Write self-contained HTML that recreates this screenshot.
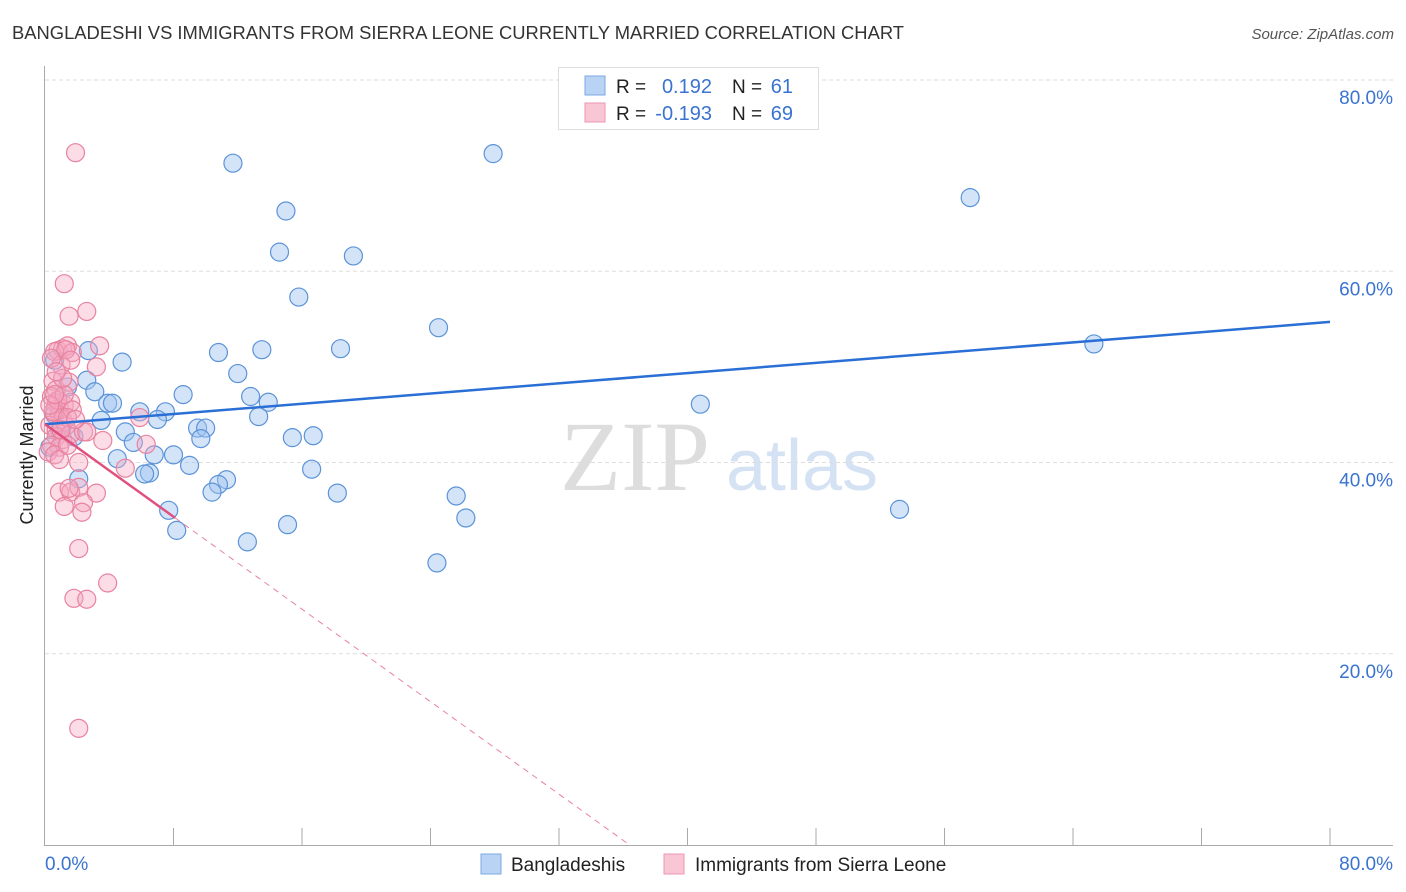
<!DOCTYPE html>
<html><head><meta charset="utf-8"><style>
body{margin:0;background:#fff;font-family:"Liberation Sans",sans-serif;}
#wrap{position:relative;width:1406px;height:892px;overflow:hidden;}
</style></head><body>
<div id="wrap">
<svg id="svg" width="1406" height="892" style="position:absolute;left:0;top:0">
<text x="12" y="39" font-size="18" fill="#333" textLength="892" lengthAdjust="spacingAndGlyphs">BANGLADESHI VS IMMIGRANTS FROM SIERRA LEONE CURRENTLY MARRIED CORRELATION CHART</text>
<text x="1394" y="39" font-size="15" fill="#555" font-style="italic" text-anchor="end">Source: ZipAtlas.com</text>
<text transform="translate(33,455) rotate(-90)" font-size="18" fill="#222" text-anchor="middle">Currently Married</text>
<g><text x="635" y="490" font-family="Liberation Serif" font-size="100" fill="#ddd" text-anchor="middle">ZIP</text><text x="802" y="490" font-size="72" fill="#d4e2f4" text-anchor="middle">atlas</text></g>
<g id="grid"></g><g id="axes"></g><g id="pts"></g><g id="lines"></g>
<g>
<rect x="558.5" y="67.5" width="260" height="62" fill="#fff" stroke="#ddd"/>
<rect x="585" y="76" width="20" height="19" fill="#b9d3f4" stroke="#7aa8e4"/>
<rect x="585" y="103" width="20" height="19" fill="#f9c6d5" stroke="#ee97b2"/>
<text x="616" y="93" font-size="19" fill="#222">R =</text><text x="712" y="93" font-size="20" fill="#3a73d0" text-anchor="end">0.192</text>
<text x="732" y="93" font-size="19" fill="#222">N =</text><text x="793" y="93" font-size="20" fill="#3a73d0" text-anchor="end">61</text>
<text x="616" y="120" font-size="19" fill="#222">R =</text><text x="712" y="120" font-size="20" fill="#3a73d0" text-anchor="end">-0.193</text>
<text x="732" y="120" font-size="19" fill="#222">N =</text><text x="793" y="120" font-size="20" fill="#3a73d0" text-anchor="end">69</text>
</g>
<g>
<rect x="481" y="854" width="20" height="20" fill="#b9d3f4" stroke="#7aa8e4"/>
<text x="511" y="871" font-size="19" fill="#222">Bangladeshis</text>
<rect x="664" y="854" width="20" height="20" fill="#f9c6d5" stroke="#ee97b2"/>
<text x="695" y="871" font-size="19" fill="#222">Immigrants from Sierra Leone</text>
</g>
</svg>
</div>
<script>
const blueX=[11.7,27.9,15.0,14.6,19.2,57.6,15.8,24.5,18.4,65.3,2.7,10.8,13.5,4.8,12.0,2.6,3.1,8.6,12.8,3.9,4.2,13.9,7.5,5.9,7.0,13.3,3.5,40.8,9.5,10.0,5.0,15.4,16.7,1.8,5.5,9.7,6.8,8.0,4.5,9.0,16.6,6.5,6.2,11.3,10.8,10.4,18.2,25.6,7.7,53.2,26.2,8.2,15.1,12.6,24.4,2.1,1.4,0.6,0.6,0.9,0.3];
const blueY=[71.3,72.3,66.3,62.0,61.6,67.7,57.3,54.1,51.9,52.4,51.7,51.5,51.8,50.5,49.3,48.6,47.4,47.1,46.9,46.2,46.2,46.3,45.3,45.3,44.5,44.8,44.4,46.1,43.6,43.6,43.2,42.6,42.8,42.7,42.1,42.5,40.8,40.8,40.4,39.7,39.3,38.9,38.8,38.2,37.7,36.9,36.8,36.5,35.0,35.1,34.2,32.9,33.5,31.7,29.5,38.3,47.9,50.7,45.0,43.4,41.6];
const pinkX=[1.9,1.2,1.5,2.6,0.8,1.1,1.4,1.7,3.4,0.6,1.0,3.2,0.5,0.7,1.5,0.4,0.7,0.9,1.2,1.6,0.6,0.9,1.1,0.3,0.7,1.3,1.7,0.7,1.1,0.4,0.9,0.2,0.6,1.6,2.4,3.6,5.9,6.3,5.0,0.9,2.1,2.6,0.9,1.6,2.1,3.2,1.2,2.4,2.3,1.5,2.1,3.9,1.8,2.6,2.1,0.5,0.8,1.2,1.4,0.3,0.6,1.0,1.4,1.9,1.1,0.4,0.7,1.3,1.6];
const pinkY=[72.4,58.7,55.3,55.8,51.7,51.9,52.2,51.5,52.2,51.6,50.2,50.0,48.5,47.6,48.4,46.9,46.2,45.7,46.0,46.3,45.3,45.0,44.5,43.9,43.4,43.8,45.5,42.7,42.4,41.8,41.6,41.1,40.8,43.0,43.2,42.3,44.7,41.9,39.4,40.3,40.0,43.2,36.9,36.9,37.4,36.8,35.4,35.8,34.8,37.3,31.0,27.4,25.8,25.7,12.2,45.3,46.5,47.1,44.7,46.0,47.1,43.4,41.8,44.5,48.8,50.9,49.5,51.8,50.7];
const yTicks=[20,40,60,80];
const xTickLabels=["0.0%","80.0%"];
const blueTrend=[44.0,54.7];
const pinkTrend=[44.0,36.4,8.1];

const NS="http://www.w3.org/2000/svg";
const sx=v=>45+v*1285/80, sy=v=>845-v*765/80;
function mk(tag,attrs,parent){const e=document.createElementNS(NS,tag);for(const k in attrs)e.setAttribute(k,attrs[k]);parent.appendChild(e);return e;}
const grid=document.getElementById('grid'),axes=document.getElementById('axes'),pts=document.getElementById('pts'),lines=document.getElementById('lines');
yTicks.forEach(t=>{
 const l=mk('line',{x1:45,x2:1393,y1:sy(t),y2:sy(t),stroke:'#ddd','stroke-dasharray':'4,3'},grid);
 
 
 const tx=mk('text',{x:1393,y:sy(t)+24,'font-size':19,fill:'#3a73d0','text-anchor':'end'},grid);
 tx.textContent=t.toFixed(1)+'%';
 
 
});
const ya=mk('line',{x1:44.5,x2:44.5,y1:66,y2:845,stroke:'#aaa'},axes);


const xa=mk('line',{x1:44,x2:1393,y1:845.5,y2:845.5,stroke:'#aaa'},axes);


for(let i=1;i<=10;i++){const tk=mk('line',{x1:sx(i*8),x2:sx(i*8),y1:828,y2:845,stroke:'#aaa'},axes);
 
 }
const xl0=mk('text',{x:45,y:870,'font-size':19,fill:'#3a73d0'},axes);xl0.textContent=xTickLabels[0];


const xl1=mk('text',{x:1393,y:870,'font-size':19,fill:'#3a73d0','text-anchor':'end'},axes);xl1.textContent=xTickLabels[1];


blueX.forEach((x,i)=>{const c=mk('circle',{cx:sx(x),cy:sy(blueY[i]),r:9,fill:'rgba(160,196,240,0.45)',stroke:'#5b93d8','stroke-width':1.2},pts);
 
 });
pinkX.forEach((x,i)=>{const c=mk('circle',{cx:sx(x),cy:sy(pinkY[i]),r:9,fill:'rgba(244,168,194,0.4)',stroke:'#e8839f','stroke-width':1.2},pts);
 
 });
const bl=mk('line',{x1:sx(0),y1:sy(blueTrend[0]),x2:sx(80),y2:sy(blueTrend[1]),stroke:'#2a6fd6','stroke-width':2.5},lines);


const slope=-pinkTrend[0]/pinkTrend[1];
const pd=mk('line',{x1:sx(pinkTrend[2]),y1:sy(pinkTrend[0]+slope*pinkTrend[2]),x2:sx(pinkTrend[1]),y2:sy(0),stroke:'#e8839f','stroke-width':1,'stroke-dasharray':'6,5'},lines);


const ps=mk('line',{x1:sx(0),y1:sy(pinkTrend[0]),x2:sx(pinkTrend[2]),y2:sy(pinkTrend[0]+slope*pinkTrend[2]),stroke:'#e0507e','stroke-width':2.5},lines);


</script>
</body></html>
